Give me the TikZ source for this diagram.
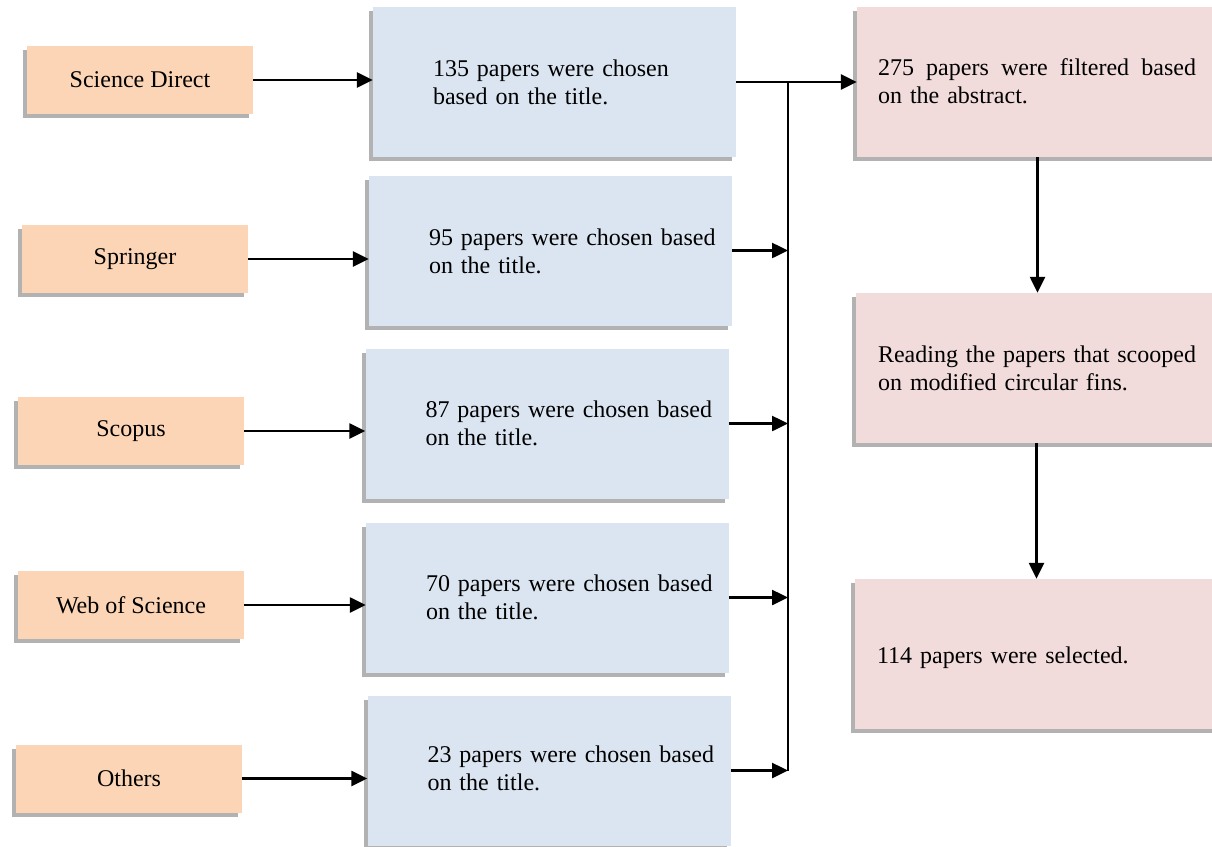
\documentclass[tikz,border=0pt]{standalone}
\usepackage{fontspec}
\setmainfont{Liberation Serif}
\usepackage{tikz}
\usetikzlibrary{arrows.meta, positioning, shadows}

\definecolor{srcorange}{RGB}{251,213,181}
\definecolor{chosenblue}{RGB}{219,229,241}
\definecolor{resultpink}{RGB}{242,219,219}

\begin{document}
\begin{tikzpicture}[
  x=1pt, y=-1pt,
  font=\fontsize{24pt}{28pt}\selectfont,
  shade box/.style={drop shadow={shadow xshift=-4pt, shadow yshift=-4pt, fill=black, opacity=0.3}},
  source/.style={rectangle, fill=srcorange, shade box, minimum width=226pt, minimum height=68pt, inner sep=0pt},
  chosen/.style={rectangle, fill=chosenblue, shade box, minimum width=363pt, minimum height=150pt, inner sep=0pt},
  result/.style={rectangle, fill=resultpink, shade box, minimum width=361pt, minimum height=150pt, inner sep=0pt},
  boxtext/.style={inner sep=0pt, text width=300pt, align=left, anchor=base west},
  restext/.style={inner sep=0pt, text width=318pt, align=left, anchor=base west},
  edge/.style={-{Triangle[length=16pt, width=15pt]}, line width=2.5pt},
  bus/.style={line width=2.2pt}
]
\useasboundingbox (0,0) rectangle (1212,846);

% sources
\node[source] (sd)  at (140,80)    {Science Direct};
\node[source] (spr) at (135,259)   {Springer};
\node[source] (sco) at (131,431)   {Scopus};
\node[source] (wos) at (131,605)   {Web of Science};
\node[source] (oth) at (129,778.5) {Others};

% papers chosen on the title
\node[chosen] (c1) at (554.5,82)    {};
\node[chosen] (c2) at (550.5,250.5) {};
\node[chosen] (c3) at (547,423.5)   {};
\node[chosen] (c4) at (547.5,597.5) {};
\node[chosen] (c5) at (549,770.5)   {};

\node[boxtext] (c1txt) at ([shift={(60,70)}]c1.north west) {135 papers were chosen\\based on the title.};
\node[boxtext] (c2txt) at ([shift={(60,70)}]c2.north west) {95 papers were chosen based\\on the title.};
\node[boxtext] (c3txt) at ([shift={(60,69)}]c3.north west) {87 papers were chosen based\\on the title.};
\node[boxtext] (c4txt) at ([shift={(60,69)}]c4.north west) {70 papers were chosen based\\on the title.};
\node[boxtext] (c5txt) at ([shift={(60,67)}]c5.north west) {23 papers were chosen based\\on the title.};

% filtering steps
\node[result] (f1) at (1037.5,82)  {};
\node[result] (f2) at (1036.5,368) {};
\node[result] (f3) at (1035.5,654) {};

\node[restext] (f1txt) at ([shift={(21,69)}]f1.north west) {\makebox[318pt][s]{275\hfill papers\hfill were\hfill filtered\hfill based}\\on the abstract.};
\node[restext] (f2txt) at ([shift={(22,70)}]f2.north west) {\makebox[318pt][s]{Reading\hfill the\hfill papers\hfill that\hfill scooped}\\on modified circular fins.};
\node[restext] (f3txt) at ([shift={(22,85)}]f3.north west) {114 papers were selected.};

\coordinate (join) at (788,0);

\draw[edge] (sd.east)  -- (sd.east -| c1.west);
\draw[edge] (spr.east) -- (spr.east -| c2.west);
\draw[edge] (sco.east) -- (sco.east -| c3.west);
\draw[edge] (wos.east) -- (wos.east -| c4.west);
\draw[edge] (oth.east) -- (oth.east -| c5.west);

\draw[edge] (c1.east) -- (c1.east -| f1.west);
\draw[bus] (c1.east -| join) -- (c5.east -| join);
\draw[edge] (c2.east) -- (c2.east -| join);
\draw[edge] (c3.east) -- (c3.east -| join);
\draw[edge] (c4.east) -- (c4.east -| join);
\draw[edge] (c5.east) -- (c5.east -| join);

\draw[edge] (f1.south) -- (f1.south |- f2.north);
\draw[edge] (f2.south) -- (f2.south |- f3.north);
\end{tikzpicture}
\end{document}
